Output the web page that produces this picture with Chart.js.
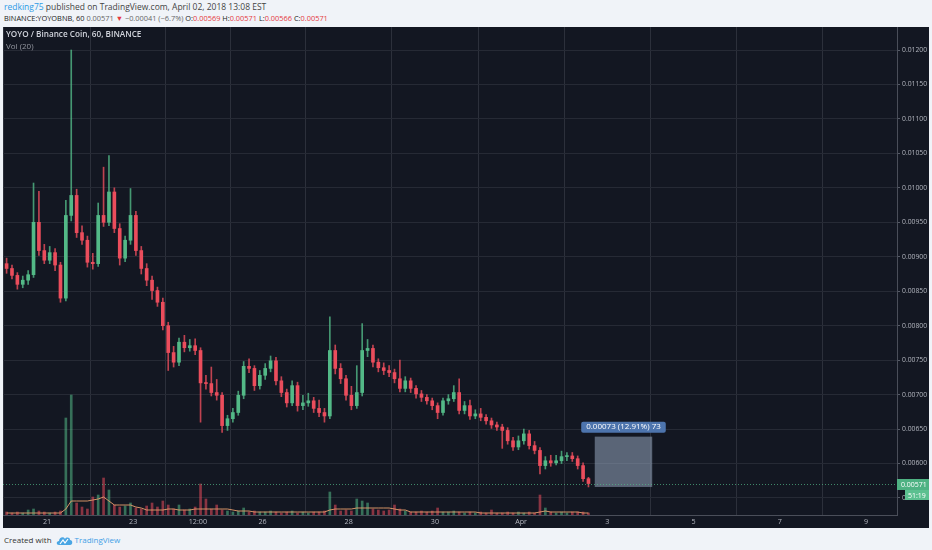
<!DOCTYPE html>
<html>
<head>
<meta charset="utf-8">
<script src="https://cdn.jsdelivr.net/npm/chart.js@4.4.1/dist/chart.umd.min.js"></script>
<style>
  html, body { margin: 0; padding: 0; width: 932px; height: 550px; overflow: hidden; background: #f0f3f8; font-family: 'Open Sans', sans-serif; }
  .txt { position: absolute; white-space: nowrap; line-height: 10px; }
  #h1 { left: 4px; top: 2px; font-size: 8.5px; color: #444; }
  #h2 { left: 4px; top: 13px; font-size: 7.4px; color: #222; }
  .blue { color: #2e9be6; }
  .red { color: #e53940; }
  .gray { color: #666; }
  #panel { position: absolute; left: 3px; top: 27px; width: 926px; height: 501px; background: #131722; }
  #chart { position: absolute; left: 3px; top: 27px; }
  #leg1 { left: 6px; top: 29px; font-size: 8.2px; color: #d1d4dc; font-weight: 600; }
  #leg2 { left: 6px; top: 41px; font-size: 8px; color: #9598a1; }
  #foot { left: 4px; top: 535px; font-size: 8px; color: #333; }
  #foot svg { vertical-align: -2px; margin: 0 2px 0 4px; }
  #foot .tv { color: #3fa0e6; }
</style>
</head>
<body>
<div class="txt" id="h1"><span class="blue">redking75</span> published on TradingView.com, April 02, 2018 13:08 EST</div>
<div class="txt" id="h2">BINANCE:YOYOBNB, 60 <span class="gray">0.00571</span> <span class="red">&#9660;</span> <span class="gray">&minus;0.00041 (&minus;6.7%)</span> O:<span class="red">0.00569</span> H:<span class="red">0.00571</span> L:<span class="red">0.00566</span> C:<span class="red">0.00571</span></div>
<div id="panel"></div>
<canvas id="chart" width="926" height="501"></canvas>
<div class="txt" id="leg1">YOYO / Binance Coin, 60, BINANCE</div>
<div class="txt" id="leg2">Vol (20)</div>
<div class="txt" id="foot">Created with<svg width="17" height="10" viewBox="0 0 17 10"><path d="M3 10 C0 10 0 6 3 6 C3 2 8 1 9 4 C10 2 14 2 14 5 C17 5 17 10 14 10 Z" fill="#4aa6e4"/><path d="M4 9 L7 5 L9 8 L12 4" stroke="#fff" stroke-width="1.2" fill="none"/></svg><span class="tv">TradingView</span></div>

<script>
// hourly chart, shown here as 3-hour candles starting 20 Mar 00:00
const barHours = 3;

const openP = [
  0.00890, 0.00883, 0.00873, 0.00860, 0.00866, 0.00874, 0.00950, 0.00909, 0.00895, 0.00906,
  0.00888, 0.00840, 0.00960, 0.00989, 0.00935, 0.00924, 0.00892, 0.00890, 0.00960, 0.00950,
  0.00994, 0.00941, 0.00898, 0.00924, 0.00960, 0.00909, 0.00883, 0.00866, 0.00851, 0.00834,
  0.00800, 0.00761, 0.00747, 0.00776, 0.00768, 0.00771, 0.00764, 0.00717, 0.00716, 0.00703,
  0.00699, 0.00655, 0.00665, 0.00674, 0.00699, 0.00741, 0.00738, 0.00713, 0.00728, 0.00738,
  0.00749, 0.00720, 0.00703, 0.00688, 0.00713, 0.00684, 0.00688, 0.00691, 0.00680, 0.00674,
  0.00669, 0.00764, 0.00738, 0.00723, 0.00699, 0.00684, 0.00703, 0.00764, 0.00767, 0.00747,
  0.00739, 0.00735, 0.00732, 0.00723, 0.00709, 0.00720, 0.00709, 0.00701, 0.00696, 0.00691,
  0.00684, 0.00674, 0.00691, 0.00694, 0.00703, 0.00677, 0.00684, 0.00669, 0.00672, 0.00667,
  0.00662, 0.00656, 0.00653, 0.00648, 0.00633, 0.00624, 0.00633, 0.00643, 0.00626, 0.00619,
  0.00597, 0.00604, 0.00601, 0.00604, 0.00610, 0.00611, 0.00607, 0.00597, 0.00578
];
const highP = [
  0.00898, 0.00888, 0.00877, 0.00872, 0.00880, 0.01007, 0.00995, 0.00918, 0.00915, 0.00912,
  0.00892, 0.00982, 0.01200, 0.00998, 0.00945, 0.00930, 0.00905, 0.00978, 0.01030, 0.01047,
  0.01000, 0.00948, 0.00930, 0.00999, 0.00966, 0.00915, 0.00890, 0.00872, 0.00856, 0.00840,
  0.00805, 0.00770, 0.00782, 0.00786, 0.00780, 0.00781, 0.00768, 0.00728, 0.00740, 0.00722,
  0.00703, 0.00670, 0.00680, 0.00705, 0.00748, 0.00752, 0.00742, 0.00735, 0.00745, 0.00756,
  0.00754, 0.00726, 0.00708, 0.00720, 0.00718, 0.00699, 0.00702, 0.00696, 0.00692, 0.00680,
  0.00813, 0.00772, 0.00745, 0.00728, 0.00712, 0.00742, 0.00803, 0.00780, 0.00772, 0.00752,
  0.00746, 0.00742, 0.00737, 0.00750, 0.00726, 0.00724, 0.00713, 0.00706, 0.00700, 0.00695,
  0.00688, 0.00695, 0.00700, 0.00713, 0.00723, 0.00690, 0.00692, 0.00678, 0.00680, 0.00671,
  0.00666, 0.00660, 0.00657, 0.00652, 0.00638, 0.00640, 0.00650, 0.00648, 0.00632, 0.00623,
  0.00610, 0.00612, 0.00612, 0.00618, 0.00616, 0.00616, 0.00611, 0.00601, 0.00580
];
const lowP = [
  0.00876, 0.00868, 0.00853, 0.00855, 0.00860, 0.00870, 0.00902, 0.00890, 0.00890, 0.00880,
  0.00834, 0.00836, 0.00952, 0.00928, 0.00918, 0.00885, 0.00882, 0.00886, 0.00944, 0.00945,
  0.00935, 0.00888, 0.00893, 0.00918, 0.00902, 0.00875, 0.00858, 0.00838, 0.00828, 0.00794,
  0.00735, 0.00740, 0.00742, 0.00762, 0.00763, 0.00758, 0.00660, 0.00708, 0.00698, 0.00692,
  0.00645, 0.00648, 0.00660, 0.00670, 0.00694, 0.00732, 0.00706, 0.00708, 0.00722, 0.00733,
  0.00714, 0.00697, 0.00682, 0.00684, 0.00676, 0.00678, 0.00683, 0.00674, 0.00668, 0.00660,
  0.00665, 0.00730, 0.00716, 0.00692, 0.00678, 0.00680, 0.00698, 0.00755, 0.00740, 0.00733,
  0.00729, 0.00726, 0.00717, 0.00704, 0.00704, 0.00703, 0.00695, 0.00690, 0.00686, 0.00678,
  0.00665, 0.00670, 0.00686, 0.00690, 0.00672, 0.00672, 0.00664, 0.00665, 0.00662, 0.00657,
  0.00651, 0.00648, 0.00622, 0.00628, 0.00619, 0.00620, 0.00628, 0.00621, 0.00614, 0.00585,
  0.00592, 0.00596, 0.00598, 0.00600, 0.00604, 0.00603, 0.00592, 0.00574, 0.00566
];
const closeP = [
  0.00883, 0.00873, 0.00860, 0.00866, 0.00874, 0.00950, 0.00909, 0.00895, 0.00906, 0.00888,
  0.00840, 0.00960, 0.00989, 0.00935, 0.00924, 0.00892, 0.00890, 0.00960, 0.00950, 0.00994,
  0.00941, 0.00898, 0.00924, 0.00960, 0.00909, 0.00883, 0.00866, 0.00851, 0.00834, 0.00800,
  0.00761, 0.00747, 0.00776, 0.00768, 0.00771, 0.00764, 0.00717, 0.00716, 0.00703, 0.00699,
  0.00655, 0.00665, 0.00674, 0.00699, 0.00741, 0.00738, 0.00713, 0.00728, 0.00738, 0.00749,
  0.00720, 0.00703, 0.00688, 0.00713, 0.00684, 0.00688, 0.00691, 0.00680, 0.00674, 0.00669,
  0.00764, 0.00738, 0.00723, 0.00699, 0.00684, 0.00703, 0.00764, 0.00767, 0.00747, 0.00739,
  0.00735, 0.00732, 0.00723, 0.00709, 0.00720, 0.00709, 0.00701, 0.00696, 0.00691, 0.00684,
  0.00674, 0.00691, 0.00694, 0.00703, 0.00677, 0.00684, 0.00669, 0.00672, 0.00667, 0.00662,
  0.00656, 0.00653, 0.00648, 0.00633, 0.00624, 0.00633, 0.00643, 0.00626, 0.00619, 0.00597,
  0.00604, 0.00601, 0.00604, 0.00610, 0.00611, 0.00607, 0.00597, 0.00578, 0.00571
];
const volume = [
  3, 2, 3, 2, 5, 6, 4, 3, 2, 3,
  4, 97, 120, 12, 8, 6, 18, 20, 37, 25,
  10, 8, 9, 12, 7, 6, 9, 12, 8, 14,
  10, 6, 10, 5, 6, 8, 31, 16, 6, 10,
  5, 4, 3, 4, 7, 3, 4, 3, 3, 4,
  3, 2, 3, 4, 2, 3, 2, 3, 3, 4,
  23, 10, 4, 5, 4, 16, 14, 12, 6, 5,
  4, 5, 10, 6, 4, 3, 3, 4, 3, 4,
  7, 3, 3, 4, 3, 2, 3, 2, 3, 2,
  5, 2, 2, 3, 2, 3, 2, 3, 2, 20,
  7, 3, 2, 3, 2, 3, 3, 3, 2
];
const volMa = [
  2, 2, 2, 2, 2, 2, 2, 2, 2, 2,
  2, 6, 14, 14, 14, 14, 15, 16, 18, 14,
  10, 10, 10, 10, 8, 7, 5, 5, 5, 5,
  6, 6, 5, 5, 5, 6, 6, 6, 6, 6,
  6, 6, 5, 4, 4, 4, 3, 3, 3, 3,
  3, 3, 3, 3, 3, 3, 3, 3, 3, 3,
  5, 6, 6, 6, 6, 7, 7, 7, 7, 7,
  7, 7, 6, 5, 5, 3, 3, 3, 3, 3,
  3, 3, 3, 3, 3, 3, 3, 3, 2, 2,
  2, 2, 2, 2, 2, 2, 2, 2, 2, 3,
  4, 3, 3, 3, 3, 3, 3, 2, 2
];

// time axis in hours since 20 Mar 00:00
const tickHours = [24, 72, 108, 144, 192, 240, 288, 336, 384, 432, 480];
const tickLabels = ['21', '23', '12:00', '26', '28', '30', 'Apr', '3', '5', '7', '9'];
const priceTicks = [0.0055, 0.006, 0.0065, 0.007, 0.0075, 0.008, 0.0085, 0.009, 0.0095, 0.010, 0.0105, 0.011, 0.0115, 0.012];

const lastPrice = 0.00571;
const countdown = '51:19';
const measureHours = [329, 361];
const measurePrices = [0.00566, 0.00639];
const measureText = '0.00073 (12.91%) 73';

const UP = '#53b987', DOWN = '#eb4d5c';
const hours = openP.map((_, i) => i * barHours + barHours / 2);
const isUp = openP.map((o, i) => closeP[i] >= o);

const overlay = {
  id: 'overlay',
  afterDraw(chart) {
    const ctx = chart.ctx, xs = chart.scales.x, ys = chart.scales.y, a = chart.chartArea;
    ctx.save();
    // measure box
    const x1 = xs.getPixelForValue(measureHours[0]), x2 = xs.getPixelForValue(measureHours[1]);
    const y1 = ys.getPixelForValue(measurePrices[1]), y2 = ys.getPixelForValue(measurePrices[0]);
    ctx.fillStyle = 'rgba(150,165,190,0.55)';
    ctx.fillRect(x1, y1, x2 - x1, y2 - y1);
    ctx.font = '8px "Open Sans"';
    const tw = ctx.measureText(measureText).width + 10;
    const cx = (x1 + x2) / 2;
    ctx.fillStyle = '#4d74ad';
    ctx.beginPath();
    ctx.roundRect(cx - tw / 2, y1 - 15, tw, 11, 2);
    ctx.fill();
    ctx.fillStyle = '#fff';
    ctx.textAlign = 'center';
    ctx.textBaseline = 'middle';
    ctx.fillText(measureText, cx, y1 - 9.5);

    // last price line and labels
    const yp = Math.round(ys.getPixelForValue(lastPrice)) + 0.5;
    ctx.strokeStyle = 'rgba(83,185,135,0.7)';
    ctx.setLineDash([1, 2]);
    ctx.lineWidth = 1;
    ctx.beginPath();
    ctx.moveTo(a.left, yp);
    ctx.lineTo(a.right, yp);
    ctx.stroke();
    ctx.setLineDash([]);
    ctx.fillStyle = '#4fb283';
    ctx.fillRect(a.right, yp - 5.5, 32, 11);
    ctx.fillStyle = '#5cc090';
    ctx.fillRect(a.right + 8, yp + 5.5, 24, 10);
    ctx.fillStyle = '#fff';
    ctx.font = '7px "Open Sans"';
    ctx.textAlign = 'left';
    ctx.fillText(lastPrice.toFixed(5), a.right + 4, yp + 0.5);
    ctx.fillText(countdown, a.right + 11, yp + 11);
    ctx.restore();
  }
};

new Chart(document.getElementById('chart'), {
  type: 'bar',
  data: {
    datasets: [
      {
        label: 'body',
        order: 0,
        grouped: false,
        barThickness: 3,
        minBarLength: 1,
        data: hours.map((h, i) => ({ x: h, y: [openP[i], closeP[i]] })),
        backgroundColor: isUp.map(u => u ? UP : DOWN),
        yAxisID: 'y'
      },
      {
        label: 'wick',
        order: 1,
        grouped: false,
        barThickness: 1,
        data: hours.map((h, i) => ({ x: h, y: [lowP[i], highP[i]] })),
        backgroundColor: isUp.map(u => u ? 'rgba(83,185,135,0.8)' : 'rgba(235,77,92,0.8)'),
        yAxisID: 'y'
      },
      {
        type: 'line',
        label: 'Vol MA',
        order: 2,
        data: hours.map((h, i) => ({ x: h, y: volMa[i] })),
        borderColor: 'rgba(232,160,110,0.9)',
        borderWidth: 1,
        pointRadius: 0,
        tension: 0,
        yAxisID: 'yv'
      },
      {
        label: 'Vol',
        order: 3,
        grouped: false,
        barThickness: 2,
        data: hours.map((h, i) => ({ x: h, y: volume[i] })),
        backgroundColor: isUp.map(u => u ? 'rgba(83,185,135,0.55)' : 'rgba(235,77,92,0.55)'),
        yAxisID: 'yv'
      }
    ]
  },
  options: {
    responsive: false,
    animation: false,
    layout: { padding: 0 },
    plugins: { legend: { display: false }, tooltip: { enabled: false } },
    scales: {
      x: {
        type: 'linear',
        min: -0.5,
        max: 497.3,
        offset: false,
        afterBuildTicks: s => { s.ticks = tickHours.map(v => ({ value: v })); },
        afterFit: s => { s.height = 13; s.paddingLeft = 0; s.paddingRight = 0; },
        ticks: {
          autoSkip: false,
          maxRotation: 0,
          padding: 3,
          color: '#b2b5be',
          font: { family: 'Open Sans', size: 7.2 },
          callback: (v, i) => tickLabels[i]
        },
        grid: { color: '#2c303b', drawTicks: false },
        border: { color: '#4a4e59' }
      },
      y: {
        position: 'right',
        min: 0.005253,
        max: 0.012334,
        afterBuildTicks: s => { s.ticks = priceTicks.map(v => ({ value: v })); },
        afterFit: s => { s.width = 32; s.paddingTop = 0; s.paddingBottom = 0; },
        ticks: {
          padding: 2,
          color: '#b2b5be',
          font: { family: 'Open Sans', size: 6.8 },
          callback: v => v.toFixed(5)
        },
        grid: { color: '#262a35', tickLength: 3, tickColor: '#555a66' },
        border: { color: '#4a4e59' }
      },
      yv: {
        display: false,
        min: 0,
        max: 488
      }
    }
  },
  plugins: [overlay]
});
</script>
</body>
</html>
